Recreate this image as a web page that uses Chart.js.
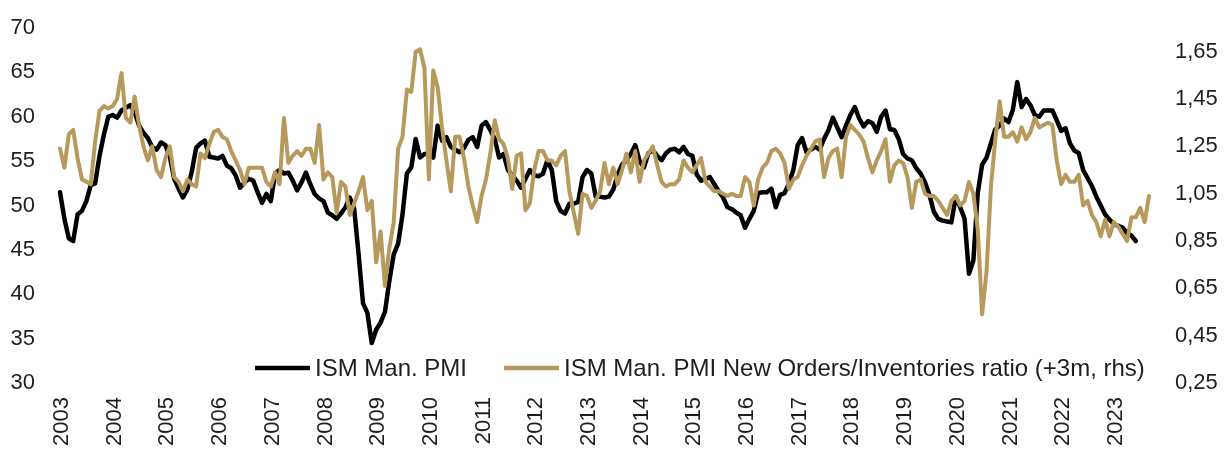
<!DOCTYPE html>
<html>
<head>
<meta charset="utf-8">
<title>ISM Man. PMI vs New Orders/Inventories</title>
<script src="https://cdn.jsdelivr.net/npm/chart.js"></script>
<style>
    html, body { margin: 0; padding: 0; background: #fff; }
    #wrap { position: relative; width: 1224px; height: 450px; }
</style>
</head>
<body>
<div id="wrap"><canvas id="myChart"></canvas></div>
<script>
// 연도 (x축 눈금)
var years = ['2003', '2004', '2005', '2006', '2007', '2008', '2009', '2010', '2011', '2012', '2013',
             '2014', '2015', '2016', '2017', '2018', '2019', '2020', '2021', '2022', '2023'];

// ISM Man. PMI, 월별 2003-01 ~ 2023-06 (lhs)
var pmi = [
    51.5, 48.5, 46.3, 46.0, 49.0, 49.4, 50.5, 52.3, 52.5, 55.6, 58.0, 60.0,
    60.2, 59.9, 60.7, 61.0, 61.3, 60.5, 59.0, 58.2, 57.6, 56.6, 56.3, 57.1,
    56.8, 55.5, 53.0, 51.9, 50.9, 51.8, 53.8, 56.5, 57.0, 57.3, 55.5, 55.4,
    55.3, 55.6, 54.5, 54.2, 53.4, 52.0, 52.6, 53.0, 52.8, 51.5, 50.3, 51.3,
    50.5, 53.6, 54.0, 53.6, 53.7, 52.8, 51.7, 52.6, 53.7, 52.4, 51.3, 50.8,
    50.5, 49.2, 48.9, 48.5, 49.1, 49.8, 50.9, 49.6, 44.5, 39.0, 37.9, 34.5,
    36.0, 36.8, 38.0, 41.5, 44.5, 45.7, 49.0, 53.6, 54.3, 57.5, 55.4, 55.8,
    55.8, 55.4, 59.0, 57.3, 57.7, 56.6, 56.3, 56.0, 56.5, 57.4, 57.7, 56.6,
    59.0, 59.4, 58.5, 57.5, 55.4, 55.8, 54.0, 53.4, 52.8, 52.0, 53.0, 54.0,
    53.4, 53.3, 53.6, 55.1, 54.0, 50.5, 49.4, 49.1, 50.2, 50.2, 50.4, 53.2,
    54.0, 53.6, 51.0, 51.0, 50.9, 51.0, 51.8, 53.5, 54.6, 55.1, 55.8, 56.8,
    55.0, 54.3, 55.9, 56.2, 55.6, 55.1, 55.9, 56.3, 56.4, 56.0, 56.6, 55.8,
    55.6, 53.5, 52.8, 53.0, 53.2, 52.4, 51.6, 50.9, 49.8, 49.6, 49.2, 48.9,
    47.5, 48.5, 49.4, 51.4, 51.5, 51.5, 51.9, 49.8, 51.2, 51.4, 52.5, 54.0,
    56.8, 57.6, 56.0, 56.3, 56.6, 56.3, 57.5, 58.5, 59.9, 58.8, 57.7, 59.0,
    60.2, 61.1, 59.8, 58.9, 59.5, 59.3, 58.3, 60.0, 60.7, 58.6, 58.5, 57.5,
    55.8, 55.3, 55.1, 54.2, 53.6, 52.6, 51.2, 49.3, 48.5, 48.3, 48.2, 48.1,
    51.0, 49.8, 48.5, 42.3, 43.8, 51.4, 54.6, 55.4, 57.0, 58.6, 59.0, 59.8,
    59.4, 60.8, 63.9, 61.1, 62.0, 61.3, 60.2, 60.0, 60.7, 60.7, 60.7, 59.6,
    58.4, 58.7, 57.0, 56.2, 55.9, 54.0, 53.1, 52.2, 51.0, 50.0, 49.0, 48.4,
    47.9, 47.7, 47.5, 46.9, 46.6, 46.0
];

// 신규주문/재고 비율 (+3m), 월별 2003-01 ~ 2023-09 (rhs)
var ratio = [
    1.24, 1.16, 1.30, 1.32, 1.20, 1.11, 1.10, 1.09, 1.27, 1.40, 1.42, 1.41,
    1.42, 1.45, 1.56, 1.37, 1.35, 1.46, 1.34, 1.25, 1.19, 1.25, 1.15, 1.12,
    1.20, 1.25, 1.12, 1.10, 1.06, 1.11, 1.09, 1.08, 1.22, 1.20, 1.26, 1.31,
    1.32, 1.29, 1.28, 1.23, 1.19, 1.15, 1.09, 1.16, 1.16, 1.16, 1.16, 1.10,
    1.08, 1.14, 1.09, 1.37, 1.18, 1.21, 1.23, 1.21, 1.24, 1.24, 1.18, 1.34,
    1.11, 1.14, 1.12, 0.97, 1.10, 1.08, 0.96, 1.01, 1.06, 1.12, 0.98, 1.02,
    0.76, 0.89, 0.66, 0.82, 0.93, 1.24, 1.29, 1.49, 1.48, 1.65, 1.66, 1.58,
    1.11, 1.57, 1.50, 1.33, 1.19, 1.06, 1.29, 1.29, 1.20, 1.08, 1.00, 0.93,
    1.04, 1.11, 1.22, 1.36, 1.28, 1.26, 1.20, 1.07, 1.21, 1.22, 0.98, 1.01,
    1.15, 1.23, 1.23, 1.19, 1.19, 1.17, 1.21, 1.23, 1.06, 0.97, 0.88, 1.05,
    1.04, 0.99, 1.02, 1.06, 1.18, 1.09, 1.16, 1.09, 1.15, 1.22, 1.14, 1.23,
    1.10, 1.19, 1.22, 1.25, 1.17, 1.10, 1.08, 1.09, 1.09, 1.11, 1.19, 1.16,
    1.14, 1.17, 1.20, 1.10, 1.08, 1.06, 1.06, 1.05, 1.04, 1.05, 1.04, 1.04,
    1.12, 1.10, 1.00, 1.11, 1.16, 1.18, 1.23, 1.24, 1.22, 1.18, 1.07, 1.11,
    1.12, 1.17, 1.21, 1.24, 1.27, 1.28, 1.12, 1.20, 1.23, 1.24, 1.12, 1.29,
    1.34, 1.32, 1.30, 1.27, 1.20, 1.14, 1.19, 1.23, 1.28, 1.10, 1.17, 1.19,
    1.18, 1.12, 0.99, 1.10, 1.11, 1.05, 1.04, 1.04, 1.02, 0.99, 0.96, 1.02,
    1.04, 1.00, 1.02, 1.10, 1.05, 0.90, 0.54, 0.72, 1.08, 1.28, 1.44, 1.29,
    1.29, 1.31, 1.27, 1.33, 1.28, 1.31, 1.37, 1.33, 1.34, 1.35, 1.34, 1.19,
    1.09, 1.13, 1.10, 1.10, 1.13, 1.00, 1.02, 0.96, 0.93, 0.87, 0.94, 0.87,
    0.93, 0.91, 0.88, 0.85, 0.95, 0.95, 0.99, 0.93, 1.04
];

// 축 눈금
var leftTicks = [30, 35, 40, 45, 50, 55, 60, 65, 70];
var rightTicks = [0.25, 0.45, 0.65, 0.85, 1.05, 1.25, 1.45, 1.65];

var seriesNames = ['ISM Man. PMI', 'ISM Man. PMI New Orders/Inventories ratio (+3m, rhs)'];
var seriesColors = ['#000000', '#b8995c'];

// 월 라벨 (YYYY-MM)
var months = [];
years.forEach(function (y) {
    for (var m = 1; m <= 12; m++) {
        months.push(y + '-' + (m < 10 ? '0' : '') + m);
    }
});
months = months.slice(0, ratio.length);

var tickFont = { family: '"Liberation Sans", Arial, sans-serif', size: 22 };
var textColor = '#1e1e1e';

// 차트 안쪽 하단 범례
var insideLegend = {
    id: 'insideLegend',
    afterDatasetsDraw: function (chart) {
        var ctx = chart.ctx;
        var y = chart.chartArea.bottom - 15;
        var x = 255;
        ctx.save();
        ctx.font = '24px "Liberation Sans", Arial, sans-serif';
        ctx.textBaseline = 'middle';
        ctx.textAlign = 'left';
        chart.data.datasets.forEach(function (ds) {
            ctx.strokeStyle = ds.borderColor;
            ctx.lineWidth = 4.5;
            ctx.beginPath();
            ctx.moveTo(x, y);
            ctx.lineTo(x + 55, y);
            ctx.stroke();
            ctx.fillStyle = textColor;
            ctx.fillText(ds.label, x + 60, y + 1);
            x += 60 + ctx.measureText(ds.label).width + 37;
        });
        ctx.restore();
    }
};

// y축 폭 고정 + 눈금 padding 때문에 생기는 위쪽 여백 제거
function fixY(width) {
    return function (s) {
        s.width = width;
        s.paddingTop = 8;
        s.paddingBottom = 8;
    };
}

var ctx = document.getElementById('myChart').getContext('2d');
var myChart = new Chart(ctx, {
    type: 'line',
    data: {
        labels: months,
        datasets: [{
            label: seriesNames[0],
            data: pmi,
            yAxisID: 'y',
            borderColor: seriesColors[0],
            borderWidth: 4.5,
            pointRadius: 0,
            tension: 0,
            borderJoinStyle: 'round',
            borderCapStyle: 'round',
            order: 2
        }, {
            label: seriesNames[1],
            data: ratio,
            yAxisID: 'y1',
            borderColor: seriesColors[1],
            borderWidth: 4,
            pointRadius: 0,
            tension: 0,
            borderJoinStyle: 'round',
            borderCapStyle: 'round',
            order: 1
        }]
    },
    options: {
        responsive: true,
        maintainAspectRatio: false,
        animation: false,
        layout: { padding: { top: 28, right: 0, bottom: 0, left: 0 } },
        plugins: {
            legend: { display: false },
            tooltip: { enabled: false }
        },
        scales: {
            x: {
                grid: { display: false, drawTicks: false },
                border: { display: false },
                ticks: {
                    autoSkip: false,
                    minRotation: 90,
                    maxRotation: 90,
                    padding: 14,
                    labelOffset: 2,
                    font: tickFont,
                    color: textColor,
                    callback: function (val, i) {
                        var l = months[i];
                        return l.slice(5) === '01' ? l.slice(0, 4) : null;
                    }
                },
                afterFit: function (s) { s.height = 67; }
            },
            y: {
                position: 'left',
                min: 30,
                max: 70,
                grid: { display: false, drawTicks: false },
                border: { display: false },
                ticks: { padding: 25, font: tickFont, color: textColor },
                afterBuildTicks: function (s) {
                    s.ticks = leftTicks.map(function (v) { return { value: v }; });
                },
                afterFit: fixY(60)
            },
            y1: {
                position: 'right',
                min: 0.25,
                max: 1.75,
                grid: { display: false, drawTicks: false },
                border: { display: false },
                ticks: {
                    padding: 26,
                    font: tickFont,
                    color: textColor,
                    callback: function (v) { return v.toFixed(2).replace('.', ','); }
                },
                afterBuildTicks: function (s) {
                    s.ticks = rightTicks.map(function (v) { return { value: v }; });
                },
                afterFit: fixY(75)
            }
        }
    },
    plugins: [insideLegend]
});
</script>
</body>
</html>
